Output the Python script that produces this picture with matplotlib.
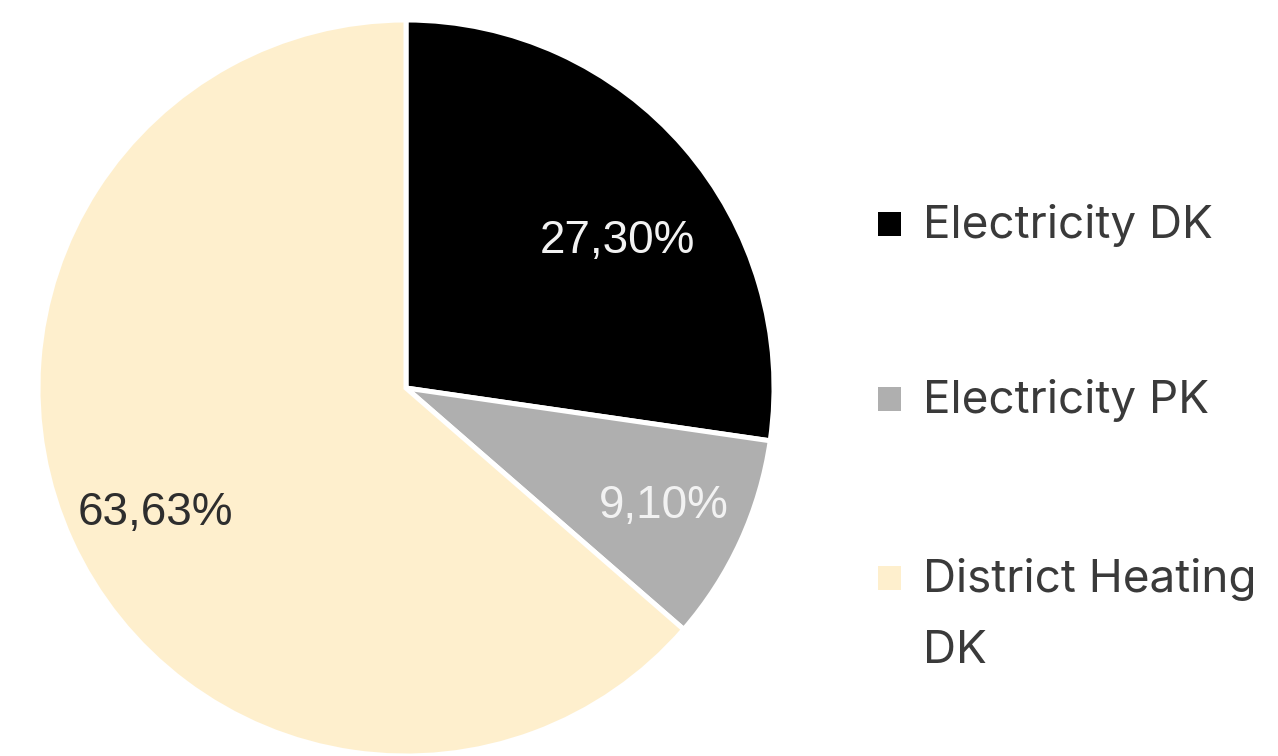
import matplotlib
matplotlib.use("Agg")
import numpy as np
import matplotlib.pyplot as plt
from matplotlib.patches import Rectangle

# Data
categories = ["Electricity DK", "Electricity PK", "District Heating\nDK"]
shares = [27.30, 9.10, 63.63]
colors = ["#000000", "#afafaf", "#feefcd"]
label_colors = ["#f2f2f2", "#f2f2f2", "#2e2e2e"]

W, H = 1278, 756
fig = plt.figure(figsize=(W / 100, H / 100), dpi=100)
fig.patch.set_facecolor("white")

# pie centre ~ (406, 388) px, radius ~368 px
cx, cy, r = 406, 388, 368
ax = fig.add_axes([(cx - r) / W, (H - cy - r) / H, 2 * r / W, 2 * r / H])

total = sum(shares)
wedges, texts, autotexts = ax.pie(
    shares,
    colors=colors,
    startangle=90,
    counterclock=False,
    radius=1.0,
    pctdistance=0.77,
    autopct=lambda p: f"{p * total / 100:.2f}%".replace(".", ","),
    wedgeprops=dict(edgecolor="white", linewidth=3.6),
    textprops=dict(family="Liberation Sans", fontsize=33),
)
for t, c in zip(autotexts, label_colors):
    t.set_color(c)

# the first label sits a little below its wedge's mid angle in the original
w0 = wedges[0]
ang = np.deg2rad((w0.theta1 + w0.theta2) / 2 - 6)
autotexts[0].set_position((0.70 * np.cos(ang), 0.70 * np.sin(ang)))
# the big one sits slightly lower too
w2 = wedges[2]
ang = np.deg2rad((w2.theta1 + w2.theta2) / 2 + 2)
autotexts[2].set_position((0.76 * np.cos(ang), 0.76 * np.sin(ang)))

ax.set_xlim(-1, 1)
ax.set_ylim(-1, 1)
ax.set_aspect("equal")
ax.axis("off")
for w in wedges:
    w.set_clip_on(False)

# Legend drawn by hand so the marker sits on the first line
baselines = [238, 413, 592]
line_gap = 71
for lab, col, yb in zip(categories, colors, baselines):
    fig.patches.append(Rectangle((878 / W, (H - yb + 2) / H), 23 / W, 24 / H,
                                 transform=fig.transFigure, facecolor=col,
                                 edgecolor="none"))
    for i, line in enumerate(lab.split("\n")):
        fig.text(923 / W, (H - yb - i * line_gap) / H, line, family="Inter",
                 fontsize=33, color="#3a3a3a", va="baseline", ha="left")

fig.savefig("out.png", dpi=100, facecolor="white")
